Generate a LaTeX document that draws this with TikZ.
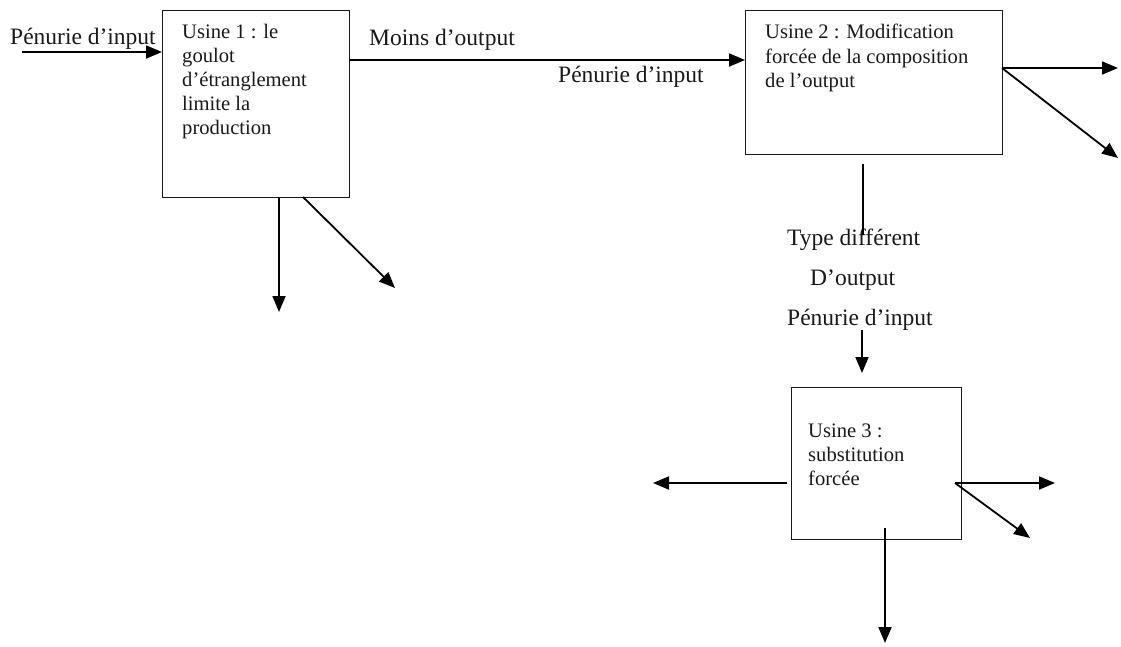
\documentclass[tikz,border=0pt]{standalone}
\usepackage{fontspec}
\setmainfont{Liberation Serif}
\usetikzlibrary{arrows.meta}
\begin{document}
\begin{tikzpicture}[x=1pt,y=-1pt,
  box/.style={draw=black!90,line width=1.4pt,anchor=north west,inner sep=0pt},
  lbl/.style={inner sep=0pt,anchor=base west,font=\fontsize{23.5}{24}\selectfont,text=black!90},
  btxt/.style={lbl,font=\fontsize{20.6}{24}\selectfont},
  arr/.style={line width=1.8pt,-{Triangle[length=16pt,width=13pt]}},
  ln/.style={line width=1.8pt}]
\useasboundingbox (0,0) rectangle (1121,646);
% boxes
\node[box,minimum width=187pt,minimum height=187pt] (u1) at (162,10) {};
\node[box,minimum width=257pt,minimum height=144pt] (u2) at (745,10) {};
\node[box,minimum width=170pt,minimum height=152pt] (u3) at (791,387) {};
% box texts
\node[btxt] (t1a) at (182,38) {Usine 1 : le};
\node[btxt] (t1b) at (182,62) {goulot};
\node[btxt] (t1c) at (182,86) {d’étranglement};
\node[btxt] (t1d) at (182,110) {limite la};
\node[btxt] (t1e) at (182,134) {production};
\node[btxt] (t2a) at (765,38) {Usine 2 : Modification};
\node[btxt] (t2b) at (765,63) {forcée de la composition};
\node[btxt] (t2c) at (765,87) {de l’output};
\node[btxt] (t3a) at (808,437) {Usine 3 :};
\node[btxt] (t3b) at (808,461) {substitution};
\node[btxt] (t3c) at (808,485) {forcée};
% free labels
\node[lbl] (p1) at (10,44) {Pénurie d’input};
\node[lbl] (mo) at (369,45) {Moins d’output};
\node[lbl] (p2) at (558,82) {Pénurie d’input};
\node[lbl] (td) at (787,245) {Type différent};
\node[lbl] (do) at (810,285) {D’output};
\node[lbl] (p3) at (787,325) {Pénurie d’input};
% coordinates
\coordinate (in1) at (22,52);
\coordinate (y60) at (0,60);
\coordinate (d1a) at (279,312);
\coordinate (d1s) at (303,197);
\coordinate (d1b) at (395,288);
\coordinate (r2s) at (1002,68);
\coordinate (r2a) at (1118,68);
\coordinate (r2b) at (1118,158);
\coordinate (v2s) at (863,164);
\coordinate (v2e) at (863,235);
\coordinate (a3s) at (862,330);
\coordinate (a3e) at (862,373);
\coordinate (l3s) at (787,483);
\coordinate (l3e) at (653,483);
\coordinate (r3s) at (955,483);
\coordinate (r3a) at (1055,483);
\coordinate (r3b) at (1030,538);
\coordinate (d3s) at (885,528);
\coordinate (d3e) at (885,643);
% connectors
\draw[arr] (in1) -- (in1 -| u1.west);
\draw[arr] (u1.east |- y60) -- (u2.west |- y60);
\draw[arr] (u1.south -| d1a) -- (d1a);
\draw[arr] (d1s) -- (d1b);
\draw[arr] (r2s) -- (r2a);
\draw[arr] (r2s) -- (r2b);
\draw[ln] (v2s) -- (v2e);
\draw[arr] (a3s) -- (a3e);
\draw[arr] (l3s) -- (l3e);
\draw[arr] (r3s) -- (r3a);
\draw[arr] (r3s) -- (r3b);
\draw[arr] (d3s) -- (d3e);
\end{tikzpicture}
\end{document}
